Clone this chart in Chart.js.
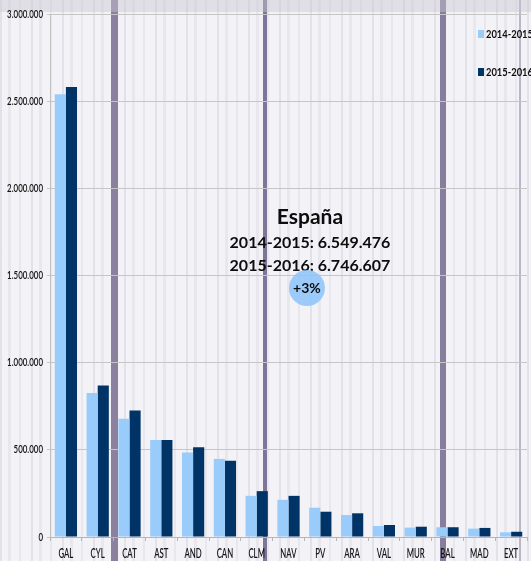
<!DOCTYPE html>
<html>
<head>
<meta charset="utf-8">
<script src="https://cdn.jsdelivr.net/npm/chart.js@4.4.1/dist/chart.umd.min.js"></script>
<style>
  html, body { margin: 0; padding: 0; }
  #wrap {
    position: relative;
    width: 531px;
    height: 561px;
    overflow: hidden;
    background:
      linear-gradient(180deg, rgba(200,198,210,0.45) 0 12px, transparent 12px),
      linear-gradient(90deg, transparent 0 111px, #8b809e 111px 118px, transparent 118px 263px, #7f7598 263px 267px, transparent 267px 440px, #877d9c 440px 446px, transparent 446px 519px, rgba(150,140,170,0.6) 519px 521px, transparent 521px),
      repeating-linear-gradient(90deg, rgba(175,172,192,0.24) 0 2px, transparent 2px 8px, rgba(185,182,200,0.18) 8px 11px, transparent 11px 19px, rgba(170,168,188,0.15) 19px 21px, transparent 21px 31px),
      #f3f2f6;
  }
  canvas { position: absolute; left: 0; top: 0; }
</style>
</head>
<body>
<div id="wrap"><canvas id="chart" width="531" height="561"></canvas></div>
<script>
  var regiones = ['GAL', 'CYL', 'CAT', 'AST', 'AND', 'CAN', 'CLM', 'NAV', 'PV', 'ARA', 'VAL', 'MUR', 'BAL', 'MAD', 'EXT'];
  var campanas = ['2014-2015', '2015-2016'];
  var valores1415 = [2539000, 826000, 678000, 557000, 485000, 448000, 236000, 213000, 168000, 126000, 63000, 54000, 56000, 48000, 27000];
  var valores1516 = [2581000, 869000, 726000, 557000, 515000, 437000, 263000, 236000, 145000, 136000, 69000, 59000, 56000, 52000, 30000];
  var totales = ['6.549.476', '6.746.607'];
  var variacion = '+3%';
  var colores = ['#99ccfb', '#003366'];

  function puntos(v) {
    return v.toString().replace(/\B(?=(\d{3})+(?!\d))/g, '.');
  }

  // texto estrecho, como el original (letra comprimida)
  function textoEstrecho(ctx, txt, x, y, sx) {
    ctx.save();
    ctx.translate(x, y);
    ctx.scale(sx, 1);
    ctx.fillText(txt, 0, 0);
    ctx.restore();
  }

  var anotaciones = {
    id: 'anotaciones',
    afterDraw: function (chart) {
      var ctx = chart.ctx;
      var a = chart.chartArea;
      var sx = chart.scales.x, sy = chart.scales.y;
      ctx.save();
      ctx.fillStyle = '#141414';
      ctx.textBaseline = 'middle';

      // etiquetas de los ejes
      ctx.font = '600 11px Lato, sans-serif';
      ctx.textAlign = 'right';
      sy.ticks.forEach(function (t) {
        textoEstrecho(ctx, puntos(t.value), a.left - 7, sy.getPixelForValue(t.value), 0.72);
      });
      ctx.font = '600 13px Lato, sans-serif';
      ctx.textAlign = 'center';
      chart.data.labels.forEach(function (lab, i) {
        textoEstrecho(ctx, lab, sx.getPixelForTick(i), a.bottom + 17, 0.6);
      });

      // leyenda
      ctx.font = 'bold 12px Lato, sans-serif';
      ctx.textAlign = 'left';
      chart.data.datasets.forEach(function (ds, i) {
        var y = a.top + 20 + i * 38;
        ctx.fillStyle = ds.backgroundColor;
        ctx.fillRect(a.right - 49, y - 4, 6, 8);
        ctx.fillStyle = '#0d0d0d';
        textoEstrecho(ctx, ds.label, a.right - 41, y, 0.78);
      });

      // España
      var cx = a.left + (a.right - a.left) * 0.545;
      ctx.textAlign = 'center';
      ctx.fillStyle = '#0d0d0d';
      ctx.font = 'bold 21px Lato, sans-serif';
      ctx.fillText('España', cx, 217);
      ctx.font = 'bold 16px Lato, sans-serif';
      ctx.fillText(campanas[0] + ': ' + totales[0], cx, 243);
      ctx.fillText(campanas[1] + ': ' + totales[1], cx, 266);

      ctx.beginPath();
      ctx.arc(cx - 3, 288, 18, 0, Math.PI * 2);
      ctx.fillStyle = 'rgba(140,196,250,0.85)';
      ctx.fill();
      ctx.fillStyle = '#0d0d0d';
      ctx.font = 'bold 14px Lato, sans-serif';
      ctx.fillText(variacion, cx - 3, 288);
      ctx.restore();
    }
  };

  var ctx = document.getElementById('chart').getContext('2d');
  new Chart(ctx, {
    type: 'bar',
    data: {
      labels: regiones,
      datasets: [
        { label: campanas[0], data: valores1415, backgroundColor: colores[0] },
        { label: campanas[1], data: valores1516, backgroundColor: colores[1] }
      ]
    },
    options: {
      responsive: false,
      animation: false,
      devicePixelRatio: 1,
      categoryPercentage: 0.7,
      barPercentage: 1.0,
      layout: { padding: { top: 14, right: 4, left: 0, bottom: 0 } },
      plugins: {
        legend: { display: false },
        tooltip: { enabled: false }
      },
      scales: {
        x: {
          offset: true,
          grid: { display: true, drawOnChartArea: false, tickLength: 4, color: '#b5b5b5', offset: true },
          border: { color: '#b5b5b5' },
          ticks: { display: false },
          afterFit: function (s) { s.height = 24; }
        },
        y: {
          min: 0,
          max: 3000000,
          grid: { color: '#c6c6c6', tickLength: 3 },
          border: { color: '#c0c0c0' },
          ticks: { display: false, stepSize: 500000 },
          afterFit: function (s) { s.width = 50; }
        }
      }
    },
    plugins: [anotaciones]
  });
</script>
</body>
</html>
